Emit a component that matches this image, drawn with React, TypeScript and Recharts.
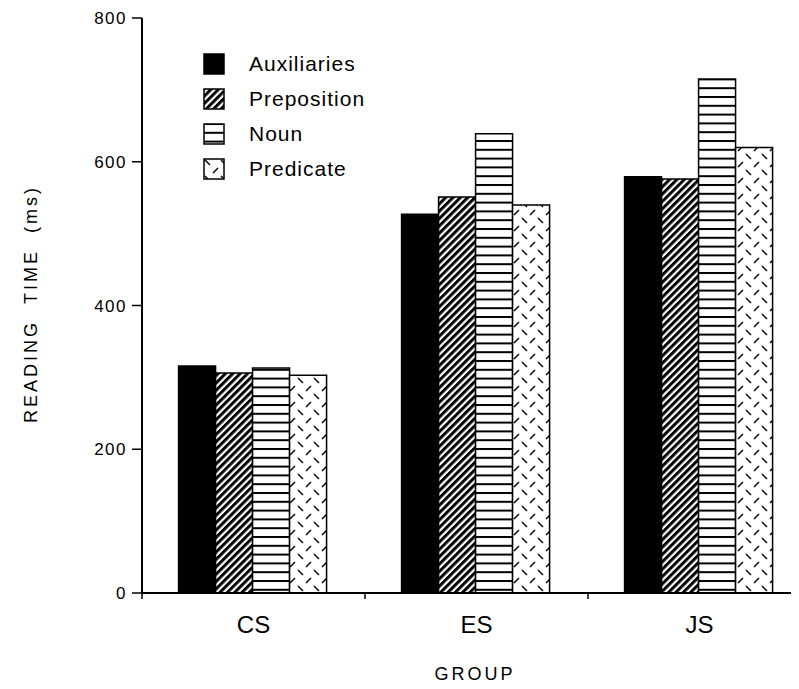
import { Bar, BarChart, Legend, XAxis, YAxis } from "recharts";

const groups = ["CS", "ES", "JS"];
const auxiliaries = [316, 527, 579];
const preposition = [306, 551, 576];
const noun = [313, 639, 715];
const predicate = [303, 540, 620];
const yTicks = [0, 200, 400, 600, 800];

const seriesNames = ["Auxiliaries", "Preposition", "Noun", "Predicate"];
const seriesKeys = ["aux", "prep", "noun", "pred"];
const fills = ["#000", "url(#hatch)", "url(#lines)", "url(#dashes)"];

const data = groups.map((g, i) => ({
  group: g,
  aux: auxiliaries[i],
  prep: preposition[i],
  noun: noun[i],
  pred: predicate[i],
}));

const FONT = "'Liberation Sans', Arial, Helvetica, sans-serif";
const AXIS_Y = 585;

function Patterns() {
  return (
    <svg width={0} height={0} style={{ position: "absolute" }}>
      <defs>
        <pattern id="hatch" patternUnits="userSpaceOnUse" width={5.2} height={10} patternTransform="rotate(45)">
          <rect x={0} y={0} width={5.2} height={10} fill="#fff" />
          <rect x={0} y={0} width={3} height={10} fill="#000" />
        </pattern>
        <pattern id="lines" patternUnits="userSpaceOnUse" width={10} height={8.8}>
          <rect x={0} y={0} width={10} height={8.8} fill="#fff" />
          <rect x={0} y={0} width={10} height={2} fill="#000" />
        </pattern>
        <pattern id="dashes" patternUnits="userSpaceOnUse" width={16} height={16}>
          <rect x={0} y={0} width={16} height={16} fill="#fff" />
          <line x1={2} y1={2} x2={7} y2={7} stroke="#000" strokeWidth={1.4} />
          <line x1={10} y1={15} x2={15} y2={10} stroke="#000" strokeWidth={1.4} />
        </pattern>
      </defs>
    </svg>
  );
}

function XTick(props: any) {
  const { x, payload } = props;
  const half = payload && payload.offset ? payload.offset : 111.5;
  return (
    <g>
      <line x1={x - half} y1={AXIS_Y} x2={x - half} y2={AXIS_Y + 6} stroke="#000" strokeWidth={1.5} />
      <text x={x} y={AXIS_Y + 23} dy="0.71em" textAnchor="middle" fontSize={24} fontFamily={FONT} fill="#000">
        {payload.value}
      </text>
    </g>
  );
}

function YLabel() {
  return (
    <text
      transform="translate(23, 296) rotate(-90)"
      textAnchor="middle"
      dominantBaseline="central"
      fontSize={18}
      letterSpacing={3}
      fontFamily={FONT}
      fill="#000"
    >
      {"READING\u00a0\u00a0TIME\u00a0\u00a0(ms)"}
    </text>
  );
}

function XLabel() {
  return (
    <text x={467} y={666} textAnchor="middle" dominantBaseline="central" fontSize={18} letterSpacing={3} fontFamily={FONT} fill="#000">
      GROUP
    </text>
  );
}

function LegendBox() {
  return (
    <div style={{ fontFamily: FONT }}>
      {seriesNames.map((name, i) => (
        <div key={name} style={{ display: "flex", alignItems: "center", height: 35 }}>
          <svg width={22} height={22}>
            <rect x={1} y={1} width={20} height={20} fill={fills[i]} stroke="#000" strokeWidth={1.5} />
          </svg>
          <span style={{ marginLeft: 24, fontSize: 21, letterSpacing: 1, color: "#000" }}>{name}</span>
        </div>
      ))}
    </div>
  );
}

export default function App() {
  return (
    <div style={{ position: "relative", width: 791, height: 681, overflow: "hidden", background: "#fff" }}>
      <Patterns />
      <BarChart
        width={830}
        height={681}
        data={data}
        margin={{ top: 10, right: 27, bottom: 36, left: 0 }}
        barCategoryGap="16.4%"
        barGap={0}
      >
        <XAxis
          dataKey="group"
          height={60}
          tickLine={false}
          tickSize={0}
          tickMargin={0}
          tick={<XTick />}
          axisLine={{ stroke: "#000", strokeWidth: 2 }}
          label={<XLabel />}
        />
        <YAxis
          width={134}
          domain={[0, 800]}
          ticks={yTicks}
          interval={0}
          tickSize={10}
          tickMargin={5}
          tickLine={{ stroke: "#000", strokeWidth: 1.5 }}
          axisLine={{ stroke: "#000", strokeWidth: 2 }}
          tick={{ fill: "#000", fontSize: 17, fontFamily: FONT, letterSpacing: 1.5 }}
          label={<YLabel />}
        />
        <Legend
          layout="vertical"
          align="center"
          verticalAlign="middle"
          content={<LegendBox />}
          wrapperStyle={{ left: 195, top: 38, width: 220, height: 150 }}
        />
        {seriesKeys.map((k, i) => (
          <Bar key={k} dataKey={k} name={seriesNames[i]} fill={fills[i]} stroke="#000" strokeWidth={1.5} isAnimationActive={false} />
        ))}
      </BarChart>
    </div>
  );
}
